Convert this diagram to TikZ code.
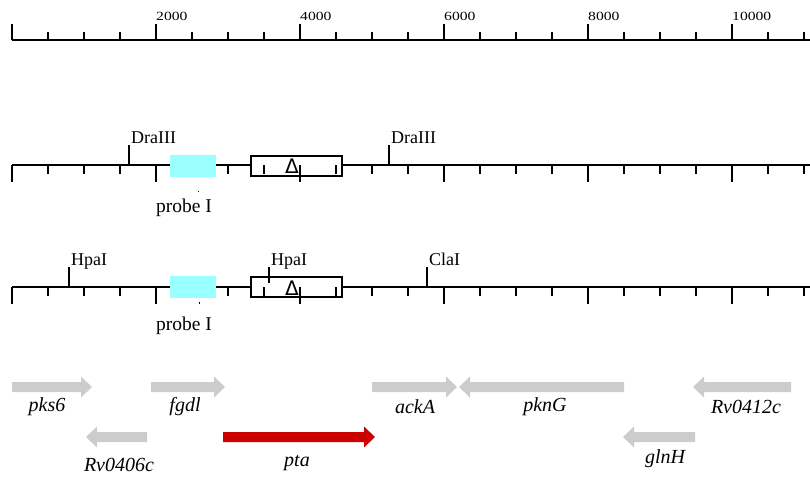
\documentclass[tikz,border=0pt]{standalone}
\usepackage{fontspec}
\setmainfont{Liberation Serif}
\newfontfamily\symfont{DejaVu Sans}
\definecolor{probecyan}{RGB}{153,255,255}
\definecolor{genegray}{RGB}{204,204,204}
\definecolor{genered}{RGB}{204,0,0}
\tikzset{
  x=1pt, y=-1pt,
  axisline/.style={line width=1.2pt, black},
  sitelabel/.style={inner sep=0pt, anchor=base west, font=\fontsize{18}{18}\selectfont},
  numlabel/.style={inner sep=0pt, anchor=base west, font=\fontsize{12.5}{13}\selectfont\addfontfeature{FakeStretch=1.25}},
  probelabel/.style={inner sep=0pt, font=\fontsize{19.5}{19.5}\selectfont},
  genelabel/.style={inner sep=0pt, font=\fontsize{20}{20}\selectfont\itshape},
  deltalabel/.style={inner sep=0pt, font=\fontsize{20}{20}\symfont},
  probebox/.style={fill=probecyan, draw=none},
  delbox/.style={fill=white, draw=black, line width=1.2pt},
  gene/.style={fill=genegray, draw=none},
  genehot/.style={fill=genered, draw=none},
}
% gene arrow pointing right: #1 = tail x, #2 = tip x, #3 = centre y
\newcommand{\generight}[4]{\fill[#4] (#1,#3-5) -- (#2-11,#3-5) -- (#2-11,#3-10.5) -- (#2,#3) -- (#2-11,#3+10.5) -- (#2-11,#3+5) -- (#1,#3+5) -- cycle;}
% gene arrow pointing left: #1 = tip x, #2 = tail x, #3 = centre y
\newcommand{\geneleft}[4]{\fill[#4] (#2,#3-5) -- (#1+11,#3-5) -- (#1+11,#3-10.5) -- (#1,#3) -- (#1+11,#3+10.5) -- (#1+11,#3+5) -- (#2,#3+5) -- cycle;}
% scale ticks hanging below a line at height #1
\newcommand{\downticks}[1]{%
  \foreach \k in {0,...,22}{%
    \pgfmathtruncatemacro{\m}{mod(\k,4)}%
    \ifnum\m=0
      \draw[axisline] (12+36*\k,#1) -- (12+36*\k,#1+17);
    \else
      \draw[axisline] (12+36*\k,#1) -- (12+36*\k,#1+9);
    \fi}}
\begin{document}
\begin{tikzpicture}
\useasboundingbox (0,0) rectangle (810,479);

% ---- coordinate scale ----
\draw[axisline] (12,40) -- (810,40);
\foreach \k in {0,...,22}{%
  \pgfmathtruncatemacro{\m}{mod(\k,4)}%
  \ifnum\m=0
    \draw[axisline] (12+36*\k,40) -- (12+36*\k,24);
  \else
    \draw[axisline] (12+36*\k,40) -- (12+36*\k,32);
  \fi}
\node[numlabel] (n2000) at (156,20) {2000};
\node[numlabel] (n4000) at (300,20) {4000};
\node[numlabel] (n6000) at (444,20) {6000};
\node[numlabel] (n8000) at (588,20) {8000};
\node[numlabel] (n10000) at (732,20) {10000};

% ---- DraIII map ----
\draw[axisline] (12,165) -- (810,165);
\draw[delbox] (251,156) rectangle (342,176);
\downticks{165}
\fill[probebox] (170,155) rectangle (216,177);
\fill (197.5,190.5) rectangle (199,192);
\node[deltalabel] (delA) at (292,166.5) {Δ};
\draw[axisline] (129,165) -- (129,145);
\draw[axisline] (389,165) -- (389,145);
\node[sitelabel] (draA) at (131,143) {DraIII};
\node[sitelabel] (draB) at (391,143) {DraIII};
\node[probelabel] (probeA) at (184,208) {probe I};

% ---- HpaI / ClaI map ----
\draw[axisline] (12,287) -- (810,287);
\draw[delbox] (251,277) rectangle (342,297);
\downticks{287}
\fill[probebox] (170,276) rectangle (216,298);
\fill (198.5,302) rectangle (200,303.5);
\node[deltalabel] (delB) at (292,288.5) {Δ};
\draw[axisline] (69,287) -- (69,267);
\draw[axisline] (269,283) -- (269,267);
\draw[axisline] (427,287) -- (427,267);
\node[sitelabel] (hpaA) at (71,265) {HpaI};
\node[sitelabel] (hpaB) at (271,265) {HpaI};
\node[sitelabel] (claA) at (429,265) {ClaI};
\node[probelabel] (probeB) at (184,326) {probe I};

% ---- genes ----
\generight{12}{92}{387}{gene}
\generight{151}{225}{387}{gene}
\generight{372}{457}{387}{gene}
\geneleft{459}{624}{387}{gene}
\geneleft{693}{791}{387}{gene}
\geneleft{86}{147}{437}{gene}
\generight{223}{375}{437}{genehot}
\geneleft{623}{695}{437}{gene}

\node[genelabel] (gPks) at (47,407) {pks6};
\node[genelabel] (gFgd) at (185,407) {fgdl};
\node[genelabel] (gAck) at (415,407) {ackA};
\node[genelabel] (gPkn) at (545,407) {pknG};
\node[genelabel] (gRv12) at (746,407) {Rv0412c};
\node[genelabel] (gRv06) at (119,465) {Rv0406c};
\node[genelabel] (gPta) at (297,463) {pta};
\node[genelabel] (gGln) at (665,459) {glnH};
\end{tikzpicture}
\end{document}
